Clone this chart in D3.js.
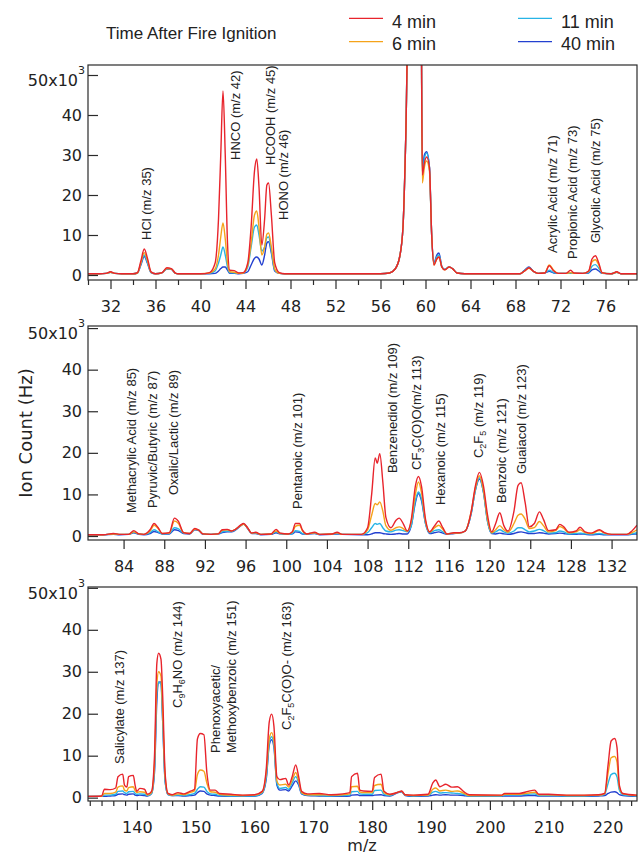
<!DOCTYPE html>
<html><head><meta charset="utf-8">
<script src="https://cdn.jsdelivr.net/npm/d3@7"></script>
<style>body{margin:0;background:#fff}</style>
</head><body><svg id="c" width="639" height="854"></svg>
<script>
// ---------- DATA ----------
const seriesNames = ["4 min", "6 min", "11 min", "40 min"];
const seriesColors = ["#e8242c", "#f5a31a", "#27b4e6", "#2340d0"];

// Panel 1 (m/z 30 - 79)
const mz1 = [30,31,31.6,32,32.4,33,34,34.4,34.7,35,
 35.3,35.6,36,36.6,37,37.4,37.8,38,40,40.8,
 41.3,41.6,41.8,42,42.2,42.4,42.6,43,43.4,43.8,
 44.2,44.5,44.8,45,45.2,45.45,45.7,45.9,46.05,46.3,
 46.6,47,47.5,56,56.8,57.3,57.7,58,58.25,58.5,
 59.6,59.72,59.9,60.1,60.35,60.55,60.75,61,61.2,61.45,
 61.7,62.1,62.4,62.8,63.5,68.4,68.8,69.2,69.6,70,
 70.6,71,71.4,71.8,72.5,72.9,73.2,74,74.5,74.8,
 75.1,75.4,75.7,76.5,77,77.4,79];
const min4_p1 = [.3,.3,.4,.8,.4,.3,.3,.6,3.5,6.5,
 4,.8,.3,.6,1.8,1.6,.4,.3,.3,.6,
 3,14,30,46,30,8,1.2,1.1,.5,.6,
 3,12,26,29,22,7.5,14,22.5,23,15,
 3,.6,.3,.3,.5,1.5,4.5,12,35,70,
 70,25,28,29.5,27,10,2.5,4,4.5,2,
 1.3,2,1.6,.5,.3,.3,1,1.8,.9,.4,
 .5,2.3,1,.4,.4,1.2,.5,.4,1,4,
 4.8,3,.6,.3,.8,.3,.3];
const min6_p1 = [.3,.3,.4,.7,.4,.3,.3,.5,3,5.6,
 3.5,.7,.3,.6,1.6,1.5,.4,.3,.3,.5,
 1.5,5,9.5,13,9,3,.8,.7,.4,.5,
 2.5,8,15,16,12,5,7,10.2,10.5,7,
 1.5,.4,.3,.3,.5,1.5,4.5,12,35,70,
 70,23,27,28.5,26,10,2.5,4,4.5,2,
 1.3,2,1.6,.5,.3,.3,1,1.7,.9,.4,
 .5,2.5,1.2,.4,.4,.6,.4,.4,.9,3.3,
 3.8,2.5,.5,.3,.7,.3,.3];
const min11_p1 = [.3,.3,.4,.7,.4,.3,.3,.5,2.8,5,
 3,.7,.3,.6,1.6,1.5,.4,.3,.3,.4,
 1,3,5,7,5,2,.6,.5,.4,.5,
 2,7,12,12.5,10,6,7,9.3,9.5,6,
 1.2,.4,.3,.3,.5,1.5,4.5,12,35,70,
 70,25,29,30.5,27,10,2.8,4.5,5,2,
 1.4,2,1.6,.5,.3,.3,1.1,1.9,.9,.4,
 .5,1.2,.6,.4,.4,.5,.4,.4,.6,2.2,
 2.6,1.7,.5,.3,.7,.3,.3];
const min40_p1 = [.3,.3,.4,.7,.4,.3,.3,.5,2.5,4.6,
 2.8,.6,.3,.6,1.5,1.4,.4,.3,.3,.3,
 .4,1,1.6,2,2,1.2,.4,.4,.3,.4,
 .8,2.5,4.2,4.5,4,2.5,5,8,8.3,5.5,
 1,.4,.3,.3,.5,1.5,4.5,12,35,70,
 70,26,30,30.8,27,10,3,5,5.5,2.2,
 1.4,2,1.6,.5,.3,.3,1.2,2,.9,.4,
 .5,.9,.5,.4,.4,.4,.4,.4,.5,1.3,
 1.5,1,.4,.3,.7,.3,.3];

// Panel 2 (m/z 80.5 - 134.5)
const mz2 = [80.5,82,83,83.6,84.5,85,85.5,86,86.6,87,
 87.4,87.8,88.5,89,89.4,89.9,90.5,91,91.4,91.8,
 92.6,93.3,93.7,94.2,94.6,95,95.5,95.8,96.2,96.6,
 97,97.5,98.5,99,99.4,100.2,100.6,100.9,101.3,101.6,
 102,102.8,103.3,104.5,105,105.5,107.4,108,108.4,108.75,
 108.95,109.2,109.5,109.8,110.3,110.8,111.1,111.5,111.9,112.3,
 112.7,113,113.3,113.7,114.1,114.6,115,115.4,115.8,116.5,
 117,117.6,118.2,118.6,119,119.4,119.8,120.2,120.6,121,
 121.4,121.8,122.4,122.8,123.1,123.5,123.9,124.4,124.9,125.3,
 125.8,126.5,126.9,127.3,127.8,128.5,128.9,129.4,130,130.8,
 131.3,132,133.5,134,134.5];
const min4_p2 = [.3,.3,.6,.4,.4,1.3,.5,.4,1.5,3,
 2,.6,.8,4.3,3.5,.8,.6,1.8,1.4,.5,
 .4,.5,1.5,1.6,1.2,1.6,2.6,3,2,.7,
 .9,.4,.5,1.6,.7,.5,1,3,3,1.4,
 .5,.9,.4,.5,.9,.4,.4,2,10,18.8,
 17.5,19.8,13,4.5,2,3.8,4.3,3,1.2,4,
 12,14.3,12,4,1,2.5,3.6,2,.5,.8,
 .8,1.2,6,12,15.3,12,5,1,3,5.6,
 2.5,1.2,6,12.2,12.8,8,2.2,3,5.8,4,
 1.3,1.5,2.8,2.2,.9,1.2,2.1,1,.7,1.5,
 .8,.4,.4,1.2,2.6];
const min6_p2 = [.3,.3,.5,.4,.4,1,.5,.4,1.2,2.6,
 1.8,.6,.7,3.6,3,.8,.6,1.6,1.4,.5,
 .4,.5,1.4,1.5,1.2,1.6,2.5,2.8,1.9,.7,
 .8,.4,.5,1.2,.6,.5,.9,2.3,2.6,1.2,
 .5,.8,.4,.5,.8,.4,.4,1.5,5,7.8,
 7.5,8.2,6,2.5,1.4,2,2.2,1.8,1.1,3.5,
 10,13,10.5,3.5,.9,2,2.6,1.6,.5,.7,
 .7,1.2,6,11.5,14.5,11,4,.8,1.5,2.5,
 1.5,.9,3,5,5.3,4,1.8,2,3.5,2.5,
 1,1.3,2.3,1.8,.8,1,1.5,.8,.6,1.3,
 .7,.4,.4,.8,1.5];
const min11_p2 = [.3,.3,.5,.4,.4,.9,.5,.4,.8,1.5,
 1,.5,.6,2,1.7,.7,.6,1.6,1.4,.5,
 .4,.5,1,1.2,1.1,1.5,2.5,2.9,1.9,.7,
 .7,.4,.5,1,.6,.4,.6,1.3,1.1,.6,
 .5,.7,.4,.5,.6,.4,.4,.8,2,3,
 2.8,3,2,1.2,1,1.4,1.5,1.3,1,2.5,
 8.5,10.6,9,3,.8,1.3,1.5,1,.5,.7,
 .7,1.2,5.5,11,14,10.5,3.5,.7,1,1.5,
 1,.7,1.2,2,2,1.5,1,1.2,1.6,1.3,
 .7,.8,1.2,1,.5,.6,.7,.5,.4,.6,
 .4,.4,.4,.5,.8];
const min40_p2 = [.3,.3,.4,.3,.4,.8,.4,.3,.6,1.1,
 .8,.5,.5,1.5,1.3,.6,.5,1.5,1.3,.4,
 .4,.5,.8,1,1,1.4,2.4,2.9,1.8,.6,
 .6,.3,.4,.8,.5,.4,.5,1,.9,.5,
 .5,.6,.3,.4,.5,.4,.3,.3,.5,.8,
 .8,.8,.6,.5,.4,.5,.6,.5,.5,2.5,
 8,10.2,8.5,3,.6,.8,1,.7,.4,.6,
 .7,1.2,5.5,11,13.7,10.5,3.5,.6,.5,.7,
 .5,.4,.6,.9,1,.8,.6,.6,.8,.7,
 .5,.6,.7,.6,.4,.4,.5,.4,.3,.4,
 .3,.3,.3,.4,.5];

// Panel 3 (m/z 131.7 - 225)
const mz3 = [131.7,134,134.5,135.5,136.4,136.8,137.6,137.9,138.3,138.6,
 139.4,139.7,140,140.5,141.3,141.8,142.5,143,143.4,143.7,
 144.1,144.4,144.8,145.3,146,147,148,149,149.8,150.3,
 150.8,151.4,151.9,152.5,153.3,154,156,158,160,161.3,
 162,162.5,162.9,163.3,163.8,164.3,165.3,165.8,166.4,167,
 167.5,168,169,171,173,175,176.2,176.5,177.5,177.9,
 178.5,180,180.4,181.5,182,183,184.4,185,185.6,187,
 189.5,190.3,190.8,191.5,192.5,193.5,194.5,195.5,196.5,202,
 202.5,205,206.5,207.6,208.3,210,213,216,218.5,219.5,
 220.1,220.6,221.2,221.6,222,222.6,225];
const min4_p3 = [.3,.4,2,1.9,2.3,5,5.6,3,2.5,5,
 5.3,3,1.5,2.2,2,.8,1.5,10,32,34.4,
 33,24,6,1,.7,1.2,.9,1.5,2,14,
 15.3,15,6,1.8,1.8,1,.8,.6,.7,1.5,
 7,18,19.9,17,5,4.3,4.6,3,5,7.8,
 5,1.5,.9,1,.7,.9,1.2,5,5.8,1.8,
 1.6,1.5,4.8,5.6,1.5,.8,1.3,1.6,.7,.6,
 .8,3.5,4.2,2.6,3.2,2.5,2.6,1.5,.7,.6,
 1,1,1.5,1.8,.8,.8,.6,.6,.7,1,
 8,13.5,14.1,12,3,1,.6];
const min6_p3 = [.3,.3,1,1,1.3,2.5,2.8,1.8,1.6,2.4,
 2.6,1.7,1.2,1.4,1.3,.6,1.2,8,27,30,
 29,20,5,.9,.6,.9,.7,1.2,1.6,5.5,
 6.6,6.3,3.5,1.4,1.3,.8,.6,.5,.6,1.3,
 6,14,15.5,13.5,4,3,3.2,2.5,4.2,6,
 4,1.2,.7,.7,.6,.7,.9,2.6,2.7,1.4,
 1.2,1.2,2.9,3.2,1.2,.7,1.3,1.5,.6,.5,
 .6,2,2.3,1.6,1.8,1.5,1.6,1.1,.5,.5,
 .8,.8,1.1,1.3,.7,.7,.5,.5,.6,.9,
 6,9.5,9.8,8.5,2.5,.9,.5];
const min11_p3 = [.3,.3,.6,.6,.8,1.5,1.6,1.2,1,1.4,
 1.5,1,.8,.9,.8,.5,1,7,25,27.5,
 27,18,4,.8,.5,.6,.5,.7,1,2,
 2.6,2.5,1.5,.9,.8,.5,.4,.4,.4,1.1,
 5,13,14.5,12.5,3.5,2.2,2.4,2,3.5,5,
 3.5,1,.6,.5,.4,.5,.6,1.4,1.5,.9,
 .8,.8,1.7,1.8,.8,.5,1.3,1.5,.6,.4,
 .5,1.3,1.5,1.1,1.2,1.1,1,.8,.4,.4,
 .6,.6,.8,.9,.5,.5,.4,.4,.5,.8,
 3.5,5.5,5.8,5,1.8,.7,.4];
const min40_p3 = [.3,.3,.3,.4,.5,.8,.9,.7,.6,.8,
 .9,.6,.5,.6,.5,.4,1,6,23,27.5,
 27.6,18,4,.7,.5,.5,.4,.5,.6,1.2,
 1.6,1.5,.9,.6,.5,.4,.3,.3,.3,1,
 4.5,12.5,13.8,12,3,1.8,1.9,1.6,2.8,4,
 3,.9,.5,.4,.3,.3,.4,.6,.7,.5,
 .5,.5,.6,.7,.5,.4,1.2,1.4,.5,.3,
 .4,.6,.7,.6,.7,.6,.6,.5,.3,.3,
 .4,.4,.5,.5,.4,.4,.3,.3,.4,.5,
 1,1.3,1.4,1.2,.7,.5,.3];

// Tick labels
const yTicks = [0, 10, 20, 30, 40];
const xTicks1 = [32,36,40,44,48,52,56,60,64,68,72,76];
const xMinor1 = [30,34,38,42,46,50,54,58,62,66,70,74,78];
const xTicks2 = [84,88,92,96,100,104,108,112,116,120,124,128,132];
const xTicks3 = [140,150,160,170,180,190,200,210,220];
const xMinor3 = d3.range(132, 225, 2).filter(v => v % 10 !== 0);

// Peak labels: [text, m/z anchor, ion count anchor (x10^3)] ; "_x" = subscript x
const peaks1 = [["HCl (m/z 35)",35.6,8.75],["HNCO (m/z 42)",43.51,28.75],["HCOOH (m/z 45)",46.62,27.5],
 ["HONO (m/z 46)",47.78,13.75],["Acrylic Acid (m/z 71)",71.69,5.5],["Propionic Acid (m/z 73)",73.47,4],
 ["Glycolic Acid (m/z 75)",75.51,8]];
const peaks2 = [["Methacrylic Acid (m/z 85)",85.22,5.53],["Pyruvic/Butyric (m/z 87)",87.28,6.73],
 ["Oxalic/Lactic (m/z 89)",89.35,9.86],["Pentanoic (m/z 101)",101.54,6.49],["Benzenediol (m/z 109)",110.88,15.14],
 ["CF_3C(O)O(m/z 113)",113.24,15.87],["Hexanoic (m/z 115)",115.6,7.45],["C_2F_5 (m/z 119)",119.34,18.75],
 ["Benzoic (m/z 121)",121.6,7.93],["Guaiacol (m/z 123)",123.57,14.9]];
const peaks3 = [["Salicylate (m/z 137)",137.82,8.02],["C_9H_6NO (m/z 144)",147.68,21.36],
 ["Phenoxyacetic/",154.13,10.64],["Methoxybenzoic (m/z 151)",156.85,10.64],["C_2F_5C(O)O- (m/z 163)",166.2,16.12]];

// ---------- DRAW ----------
const svg = d3.select("#c");
const L = 88, R = 637;
const panels = [
  {mz: mz1, vals: [min4_p1,min6_p1,min11_p1,min40_p1], xd:[30,78.8], yd:[-1.25,52.5], top:65, bot:280, major:xTicks1, minor:xMinor1, peaks:peaks1},
  {mz: mz2, vals: [min4_p2,min6_p2,min11_p2,min40_p2], xd:[80.5,134.5], yd:[-0.96,50.5], top:326, bot:540, major:xTicks2, minor:[], peaks:peaks2},
  {mz: mz3, vals: [min4_p3,min6_p3,min11_p3,min40_p3], xd:[131.7,225], yd:[-0.8,50.2], top:587, bot:801, major:xTicks3, minor:xMinor3, peaks:peaks3}
];
const tickFont = "DejaVu Sans, Verdana, sans-serif";
const labFont = "Liberation Sans, Arial, sans-serif";

panels.forEach((p, i) => {
  const x = d3.scaleLinear().domain(p.xd).range([L, R]);
  const y = d3.scaleLinear().domain(p.yd).range([p.bot, p.top]);
  const g = svg.append("g");
  const cid = "clip" + i;
  svg.append("defs").append("clipPath").attr("id", cid)
    .append("rect").attr("x", L).attr("y", p.top).attr("width", R - L).attr("height", p.bot - p.top);

  // series: draw 40 min first, 4 min last
  const line = d3.line().x(d => x(d[0])).y(d => y(d[1])).curve(d3.curveMonotoneX);
  const dg = g.append("g").attr("clip-path", `url(#${cid})`);
  [3,2,1,0].forEach(s => {
    const pts = p.mz.map((m, k) => [m, p.vals[s][k]]);
    dg.append("path").attr("d", line(pts)).attr("fill", "none")
      .attr("stroke", seriesColors[s]).attr("stroke-width", 1.4).attr("stroke-linejoin", "round");
  });

  // frame
  g.append("rect").attr("x", L).attr("y", p.top).attr("width", R - L).attr("height", p.bot - p.top)
    .attr("fill", "none").attr("stroke", "#2a2a2a").attr("stroke-width", 1.2);

  // x axis
  const xa = g.append("g").attr("transform", `translate(0,${p.bot})`)
    .call(d3.axisBottom(x).tickValues(p.major).tickSize(9).tickFormat(d3.format("d")));
  xa.select(".domain").remove();
  xa.selectAll("line").attr("stroke", "#2a2a2a").attr("stroke-width", 1.2);
  xa.selectAll("text").attr("y", 32).attr("dy", null).attr("font-family", tickFont).attr("font-size", 16).attr("fill", "#222");
  if (p.minor.length) {
    const xm = g.append("g").attr("transform", `translate(0,${p.bot})`)
      .call(d3.axisBottom(x).tickValues(p.minor.filter(v => v >= p.xd[0] && v <= p.xd[1])).tickSize(5).tickFormat(""));
    xm.select(".domain").remove();
    xm.selectAll("line").attr("stroke", "#2a2a2a").attr("stroke-width", 1.2);
  }

  // y axis (inward ticks)
  const ya = g.append("g").attr("transform", `translate(${L},0)`)
    .call(d3.axisLeft(y).tickValues(yTicks.concat([50])).tickSizeInner(-10).tickSizeOuter(0).tickPadding(6)
      .tickFormat(v => v === 50 ? "" : d3.format("d")(v)));
  ya.select(".domain").remove();
  ya.selectAll("line").attr("stroke", "#2a2a2a").attr("stroke-width", 1.2);
  ya.selectAll("text").attr("font-family", tickFont).attr("font-size", 16).attr("fill", "#222");
  g.append("text").attr("x", L - 10).attr("y", y(50) + 11)
    .attr("text-anchor", "end").attr("font-family", tickFont).attr("font-size", 16).attr("fill", "#222").text("50x10");
  g.append("text").attr("x", L - 10).attr("y", y(50) - 1)
    .attr("font-family", tickFont).attr("font-size", 11).attr("fill", "#222").text("3");

  // peak labels
  p.peaks.forEach(([txt, mz, v]) => {
    const t = g.append("text").attr("transform", `translate(${x(mz)},${y(v)}) rotate(-90)`)
      .attr("font-family", labFont).attr("font-size", 13).attr("fill", "#222");
    const parts = txt.split(/(_.)/).filter(s => s.length);
    let pend = 0;
    parts.forEach(s => {
      if (s[0] === "_") {
        t.append("tspan").attr("font-size", 9).attr("dy", 3 - pend).text(s[1]);
        pend = 3;
      } else {
        const ts = t.append("tspan").text(s);
        if (pend) { ts.attr("dy", -pend); pend = 0; }
      }
    });
  });
});

// y axis title
svg.append("text").attr("transform", "translate(32,433) rotate(-90)").attr("text-anchor", "middle")
  .attr("font-family", tickFont).attr("font-size", 18).attr("fill", "#222").text("Ion Count (Hz)");
// x axis title
svg.append("text").attr("x", 362).attr("y", 851).attr("text-anchor", "middle")
  .attr("font-family", tickFont).attr("font-size", 16).attr("fill", "#222").text("m/z");

// legend
svg.append("text").attr("x", 106).attr("y", 38.5).attr("font-family", labFont).attr("font-size", 17)
  .attr("fill", "#222").text("Time After Fire Ignition");
const legPos = [[349, 18.3, 28], [349, 41.7, 50], [518, 18.3, 28], [518, 41.7, 50]];
seriesNames.forEach((n, s) => {
  const [lx, ly, ty] = legPos[s];
  svg.append("line").attr("x1", lx).attr("x2", lx + 34).attr("y1", ly).attr("y2", ly)
    .attr("stroke", seriesColors[s]).attr("stroke-width", 1.2);
  svg.append("text").attr("x", lx + 43).attr("y", ty).attr("font-family", labFont).attr("font-size", 18)
    .attr("fill", "#222").text(n);
});
</script></body></html>
